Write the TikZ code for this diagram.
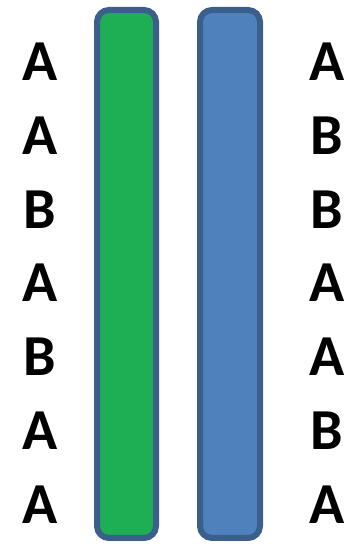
\documentclass[tikz,border=0pt]{standalone}
\usepackage{fontspec}
\setmainfont{Carlito}
\usepackage{xcolor}
\definecolor{barline}{HTML}{3A5F8B}
\definecolor{bargreen}{HTML}{1EAF54}
\definecolor{barblue}{HTML}{4F81BD}
\tikzset{
  bar/.style={draw=barline, line width=6pt, rounded corners=12pt},
  letter/.style={font=\fontsize{58}{58}\selectfont\bfseries, inner sep=0pt, anchor=center}
}

\begin{document}
\begin{tikzpicture}[x=1pt,y=1pt]
		\useasboundingbox (0,0) rectangle (359,544);
		
		% Bars
		\draw[bar, fill=bargreen] (97,6) rectangle (156,534);
		\draw[bar, fill=barblue] (200,6) rectangle (260,534);
		
		% Left column
		\foreach \t [count=\i] in {A,A,B,A,B,A,A}
			\node[letter] (l\i) at (40,{544-62-73.7*(\i-1)}) {\t};
		
		% Right column
		\foreach \t [count=\i] in {A,B,B,A,A,B,A}
			\node[letter] (r\i) at (327,{544-62-73.7*(\i-1)}) {\t};
	\end{tikzpicture}
\end{document}
